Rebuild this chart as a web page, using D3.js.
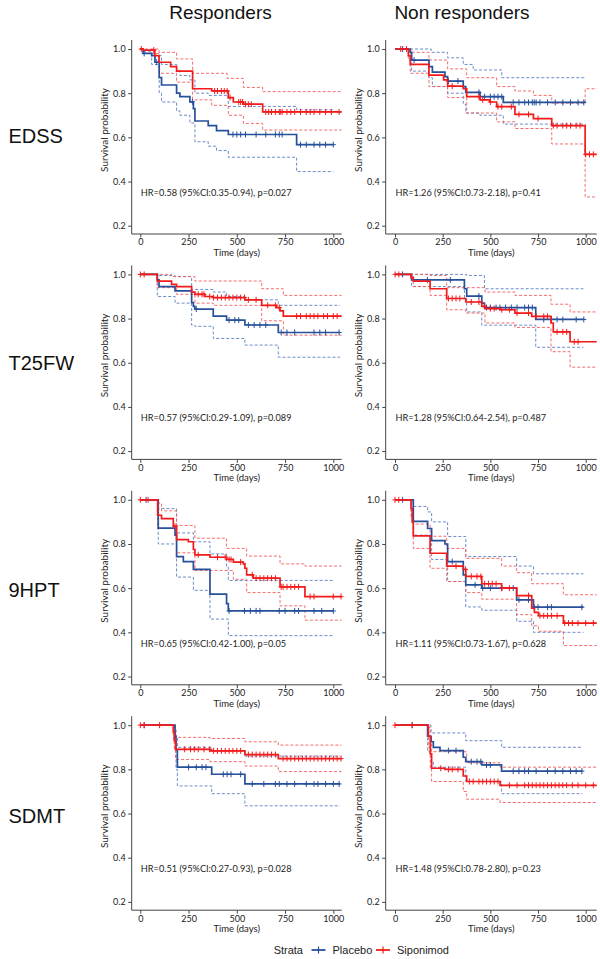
<!DOCTYPE html>
<html>
<head>
<meta charset="utf-8">
<script src="https://cdn.jsdelivr.net/npm/d3@7"></script>
<style>
  body { margin: 0; background: #fff; }
  svg { display: block; }
  .tick text { font-family: Lato, "Open Sans", sans-serif; font-size: 9px; fill: #222; }
</style>
</head>
<body>
<div id="root"><svg width="600" height="959"></svg></div>
<script>
// ---- labels ----
const columnTitles = ['Responders', 'Non responders'];
const rowTitles = ['EDSS', 'T25FW', '9HPT', 'SDMT'];
const dayTicks = [0, 250, 500, 750, 1000];
const probTicks = [0.2, 0.4, 0.6, 0.8, 1.0];
const strata = ['Placebo', 'Siponimod'];
const hrLabels = [
  'HR=0.58 (95%CI:0.35-0.94), p=0.027',
  'HR=1.26 (95%CI:0.73-2.18), p=0.41',
  'HR=0.57 (95%CI:0.29-1.09), p=0.089',
  'HR=1.28 (95%CI:0.64-2.54), p=0.487',
  'HR=0.65 (95%CI:0.42-1.00), p=0.05',
  'HR=1.11 (95%CI:0.73-1.67), p=0.628',
  'HR=0.51 (95%CI:0.27-0.93), p=0.028',
  'HR=1.48 (95%CI:0.78-2.80), p=0.23'
];

// ---- EDSS responders ----
const resEdssPbo = [[0,1],[15,0.98],[59,0.97],[76,0.94],[98,0.87],[110,0.837],[188,0.80],[205,0.784],[257,0.761],[275,0.73],[283,0.674],[352,0.653],[395,0.63],[456,0.613],[810,0.567],[1000,0.567]];
const resEdssPboHi = [[0,1],[15,0.995],[76,0.97],[110,0.93],[188,0.905],[205,0.88],[257,0.86],[283,0.80],[352,0.79],[456,0.74],[810,0.725],[1000,0.725]];
const resEdssPboLo = [[0,1],[15,0.99],[59,0.93],[98,0.80],[110,0.76],[188,0.72],[205,0.70],[257,0.665],[283,0.58],[352,0.56],[395,0.54],[456,0.51],[810,0.445],[1000,0.445]];
const resEdssPboCens = [20, 85, 270, 480, 500, 520, 545, 600, 650, 700, 720, 735, 830, 860, 900, 930, 960, 1000];
const resEdssSip = [[0,1],[15,0.995],[75,0.97],[97,0.94],[157,0.92],[188,0.90],[271,0.82],[370,0.81],[456,0.78],[482,0.76],[534,0.75],[634,0.715],[1043,0.715]];
const resEdssSipHi = [[0,1],[97,0.985],[188,0.955],[271,0.89],[450,0.867],[534,0.826],[634,0.807],[1043,0.807]];
const resEdssSipLo = [[0,1],[15,0.98],[97,0.89],[188,0.85],[271,0.77],[370,0.745],[456,0.70],[534,0.663],[634,0.633],[1043,0.633]];
const resEdssSipCens = [5, 70, 385, 400, 420, 435, 450, 465, 510, 520, 530, 545, 560, 575, 650, 665, 680, 700, 720, 725, 735, 760, 780, 800, 830, 860, 880, 900, 930, 960, 990, 1030];

// ---- EDSS non responders ----
const nonEdssPbo = [[0,1],[79,0.985],[87,0.95],[178,0.92],[196,0.895],[262,0.875],[276,0.855],[358,0.83],[371,0.804],[446,0.784],[568,0.758],[1000,0.758]];
const nonEdssPboHi = [[0,1],[190,0.985],[276,0.96],[358,0.93],[410,0.905],[560,0.87],[1000,0.87]];
const nonEdssPboLo = [[0,1],[79,0.98],[87,0.90],[178,0.87],[196,0.83],[276,0.80],[358,0.75],[371,0.71],[446,0.70],[568,0.66],[1000,0.66]];
const nonEdssPboCens = [40, 100, 280, 330, 440, 470, 500, 520, 540, 560, 620, 650, 680, 700, 720, 730, 740, 760, 800, 840, 880, 920, 960, 990];
const nonEdssSip = [[0,1],[70,0.97],[80,0.93],[178,0.882],[255,0.86],[276,0.832],[358,0.82],[376,0.784],[446,0.77],[498,0.76],[533,0.739],[629,0.704],[726,0.685],[822,0.653],[997,0.523],[1058,0.523]];
const nonEdssSipHi = [[0,1],[87,0.985],[178,0.95],[276,0.91],[376,0.87],[533,0.83],[629,0.81],[726,0.79],[822,0.755],[997,0.82],[1058,0.82]];
const nonEdssSipLo = [[0,1],[70,0.95],[80,0.89],[178,0.83],[276,0.78],[376,0.71],[533,0.67],[629,0.64],[822,0.57],[997,0.33],[1058,0.33]];
const nonEdssSipCens = [30, 60, 300, 440, 460, 500, 540, 560, 610, 650, 700, 750, 830, 850, 880, 900, 920, 950, 970, 1000, 1020, 1040];

// ---- T25FW responders ----
const resT25Pbo = [[0,1],[88,0.975],[97,0.945],[180,0.925],[266,0.872],[275,0.855],[283,0.843],[378,0.811],[447,0.793],[542,0.771],[715,0.737],[1035,0.737]];
const resT25PboHi = [[0,1],[97,0.995],[180,0.99],[266,0.932],[378,0.92],[447,0.90],[542,0.885],[715,0.86],[1035,0.86]];
const resT25PboLo = [[0,1],[88,0.90],[180,0.87],[266,0.77],[283,0.765],[378,0.71],[542,0.68],[715,0.625],[1035,0.625]];
const resT25PboCens = [290, 460, 490, 510, 560, 590, 620, 650, 730, 760, 800, 900, 930, 960, 1030];
const resT25Sip = [[0,1],[88,0.97],[162,0.955],[188,0.945],[266,0.92],[283,0.91],[335,0.90],[378,0.895],[542,0.885],[629,0.86],[706,0.85],[724,0.835],[741,0.811],[1043,0.811]];
const resT25SipHi = [[0,1],[162,0.99],[283,0.97],[629,0.935],[741,0.905],[1043,0.905]];
const resT25SipLo = [[0,1],[88,0.94],[188,0.91],[283,0.87],[378,0.86],[629,0.79],[741,0.725],[1043,0.725]];
const resT25SipCens = [0, 20, 300, 320, 330, 360, 380, 400, 420, 440, 460, 480, 500, 520, 540, 560, 600, 660, 700, 720, 810, 830, 860, 880, 900, 920, 950, 970, 1000, 1020];

// ---- T25FW non responders ----
const nonT25Pbo = [[0,1],[87,0.975],[364,0.935],[376,0.902],[455,0.87],[469,0.85],[738,0.796],[988,0.796]];
const nonT25PboHi = [[0,1],[376,0.995],[469,0.935],[988,0.935]];
const nonT25PboLo = [[0,1],[87,0.945],[364,0.89],[376,0.83],[455,0.77],[738,0.67],[988,0.67]];
const nonT25PboCens = [40, 170, 290, 440, 480, 500, 530, 550, 580, 610, 640, 680, 700, 720, 780, 820, 850, 880, 950, 990];
const nonT25Sip = [[0,1],[84,0.985],[96,0.97],[184,0.935],[271,0.891],[371,0.875],[455,0.855],[472,0.845],[551,0.84],[629,0.825],[717,0.81],[818,0.78],[830,0.74],[918,0.695],[1058,0.695]];
const nonT25SipHi = [[0,1],[184,0.995],[271,0.94],[472,0.92],[629,0.905],[818,0.865],[918,0.83],[1058,0.83]];
const nonT25SipLo = [[0,1],[96,0.945],[184,0.905],[271,0.84],[371,0.825],[472,0.78],[629,0.76],[818,0.65],[918,0.58],[1058,0.58]];
const nonT25SipCens = [0, 20, 280, 300, 320, 340, 400, 440, 470, 500, 520, 560, 600, 640, 700, 740, 780, 800, 850, 880, 900, 940, 960];

// ---- 9HPT responders ----
const res9hPbo = [[0,1],[93,0.872],[180,0.84],[188,0.743],[223,0.72],[275,0.685],[361,0.573],[447,0.53],[456,0.497],[1000,0.497]];
const res9hPboHi = [[0,1],[93,0.96],[188,0.85],[275,0.81],[361,0.755],[447,0.70],[456,0.635],[1000,0.635]];
const res9hPboLo = [[0,1],[93,0.80],[188,0.65],[275,0.59],[361,0.46],[456,0.385],[1000,0.385]];
const res9hPboCens = [30, 460, 540, 570, 600, 620, 720, 750, 800, 820, 900, 940, 1000];
const res9hSip = [[0,1],[90,0.93],[110,0.915],[171,0.88],[188,0.82],[249,0.81],[275,0.775],[283,0.751],[361,0.74],[447,0.73],[482,0.718],[534,0.71],[542,0.69],[551,0.66],[585,0.645],[724,0.606],[853,0.562],[1043,0.562]];
const res9hSipHi = [[0,1],[90,0.985],[110,0.95],[188,0.884],[283,0.826],[447,0.78],[551,0.745],[724,0.71],[853,0.70],[1043,0.70]];
const res9hSipLo = [[0,1],[90,0.87],[188,0.76],[283,0.68],[482,0.64],[551,0.58],[724,0.52],[853,0.455],[1043,0.455]];
const res9hSipCens = [0, 40, 180, 300, 400, 440, 460, 470, 520, 580, 600, 620, 640, 660, 680, 700, 730, 740, 760, 780, 800, 820, 880, 900, 1000, 1040];

// ---- 9HPT non responders ----
const non9hPbo = [[0,1],[96,0.902],[171,0.87],[192,0.815],[262,0.80],[276,0.72],[358,0.66],[371,0.615],[455,0.60],[638,0.547],[726,0.514],[988,0.514]];
const non9hPboHi = [[0,1],[96,0.97],[171,0.945],[192,0.90],[276,0.834],[371,0.743],[638,0.70],[726,0.665],[988,0.665]];
const non9hPboLo = [[0,1],[96,0.84],[192,0.73],[276,0.63],[371,0.515],[455,0.50],[638,0.45],[726,0.40],[988,0.40]];
const non9hPboCens = [40, 300, 420, 460, 500, 560, 620, 650, 700, 730, 750, 800, 820, 980];
const non9hSip = [[0,1],[84,0.96],[90,0.90],[96,0.837],[184,0.758],[271,0.70],[358,0.685],[371,0.653],[455,0.62],[559,0.60],[638,0.566],[717,0.509],[731,0.49],[752,0.475],[883,0.442],[1058,0.442]];
const non9hSipHi = [[0,1],[84,0.99],[96,0.89],[184,0.835],[271,0.78],[371,0.735],[559,0.70],[638,0.67],[717,0.62],[883,0.57],[1058,0.57]];
const non9hSipLo = [[0,1],[84,0.92],[96,0.78],[184,0.69],[271,0.63],[371,0.58],[455,0.55],[638,0.48],[717,0.43],[752,0.405],[883,0.34],[1058,0.34]];
const non9hSipCens = [0, 20, 320, 370, 400, 430, 450, 470, 490, 510, 530, 560, 600, 700, 760, 780, 800, 820, 850, 890, 910, 930, 960, 1000, 1040];

// ---- SDMT responders ----
const resSdmtPbo = [[0,1],[180,0.95],[185,0.89],[192,0.81],[370,0.778],[542,0.734],[1035,0.734]];
const resSdmtPboHi = [[0,1],[180,0.98],[185,0.95],[192,0.90],[370,0.885],[542,0.86],[1035,0.86]];
const resSdmtPboLo = [[0,1],[180,0.90],[185,0.80],[192,0.725],[370,0.69],[542,0.635],[1035,0.635]];
const resSdmtPboCens = [20, 250, 290, 320, 340, 430, 450, 470, 520, 580, 640, 700, 720, 760, 800, 860, 900, 920, 960, 1000, 1030];
const resSdmtSip = [[0,1],[171,0.97],[176,0.93],[183,0.891],[361,0.884],[542,0.867],[715,0.849],[1043,0.849]];
const resSdmtSipHi = [[0,1],[176,0.99],[183,0.945],[361,0.94],[542,0.925],[715,0.91],[1043,0.91]];
const resSdmtSipLo = [[0,1],[171,0.94],[176,0.89],[183,0.845],[361,0.835],[542,0.815],[715,0.79],[1043,0.79]];
const resSdmtSipCens = [0, 20, 100, 230, 260, 280, 300, 330, 360, 380, 400, 420, 440, 460, 480, 500, 520, 560, 580, 600, 620, 640, 660, 680, 700, 740, 760, 780, 800, 820, 840, 860, 880, 900, 920, 940, 960, 980, 1000, 1020, 1040];

// ---- SDMT non responders ----
const nonSdmtPbo = [[0,1],[171,0.95],[189,0.925],[201,0.90],[236,0.885],[358,0.855],[371,0.835],[455,0.82],[559,0.792],[983,0.792]];
const nonSdmtPboHi = [[0,1],[189,0.965],[371,0.93],[559,0.90],[983,0.90]];
const nonSdmtPboLo = [[0,1],[171,0.88],[189,0.835],[201,0.81],[371,0.745],[559,0.69],[983,0.69]];
const nonSdmtPboCens = [90, 280, 320, 400, 430, 450, 480, 500, 620, 650, 680, 700, 740, 800, 840, 880, 920, 950, 980];
const nonSdmtSip = [[0,1],[175,0.95],[185,0.87],[192,0.805],[262,0.80],[358,0.77],[376,0.745],[551,0.728],[1058,0.728]];
const nonSdmtSipHi = [[0,1],[175,0.99],[185,0.94],[192,0.88],[376,0.83],[551,0.81],[1058,0.81]];
const nonSdmtSipLo = [[0,1],[175,0.90],[185,0.80],[192,0.745],[358,0.70],[376,0.665],[551,0.65],[1058,0.65]];
const nonSdmtSipCens = [0, 90, 240, 280, 300, 330, 390, 410, 440, 460, 480, 500, 520, 540, 600, 640, 680, 700, 720, 740, 760, 780, 800, 820, 840, 860, 880, 900, 930, 960, 1000, 1040];

const panels = [
  { row: 0, col: 0, pbo: [resEdssPbo, resEdssPboHi, resEdssPboLo, resEdssPboCens], sip: [resEdssSip, resEdssSipHi, resEdssSipLo, resEdssSipCens] },
  { row: 0, col: 1, pbo: [nonEdssPbo, nonEdssPboHi, nonEdssPboLo, nonEdssPboCens], sip: [nonEdssSip, nonEdssSipHi, nonEdssSipLo, nonEdssSipCens] },
  { row: 1, col: 0, pbo: [resT25Pbo, resT25PboHi, resT25PboLo, resT25PboCens], sip: [resT25Sip, resT25SipHi, resT25SipLo, resT25SipCens] },
  { row: 1, col: 1, pbo: [nonT25Pbo, nonT25PboHi, nonT25PboLo, nonT25PboCens], sip: [nonT25Sip, nonT25SipHi, nonT25SipLo, nonT25SipCens] },
  { row: 2, col: 0, pbo: [res9hPbo, res9hPboHi, res9hPboLo, res9hPboCens], sip: [res9hSip, res9hSipHi, res9hSipLo, res9hSipCens] },
  { row: 2, col: 1, pbo: [non9hPbo, non9hPboHi, non9hPboLo, non9hPboCens], sip: [non9hSip, non9hSipHi, non9hSipLo, non9hSipCens] },
  { row: 3, col: 0, pbo: [resSdmtPbo, resSdmtPboHi, resSdmtPboLo, resSdmtPboCens], sip: [resSdmtSip, resSdmtSipHi, resSdmtSipLo, resSdmtSipCens] },
  { row: 3, col: 1, pbo: [nonSdmtPbo, nonSdmtPboHi, nonSdmtPboLo, nonSdmtPboCens], sip: [nonSdmtSip, nonSdmtSipHi, nonSdmtSipLo, nonSdmtSipCens] }
];

const colors = { pbo: '#27509b', sip: '#f21b1b', pboCi: '#5b80c4', sipCi: '#f55b5b' };
const panelFont = 'Lato, "Open Sans", sans-serif';
const titleFont = '"Liberation Sans", Arial, sans-serif';

// layout
const rowStep = 225.4;
const colGeom = [
  { axisX: 131.7, x0: 140.3, x1: 333.3, right: 341.7 },
  { axisX: 385.7, x0: 395, x1: 585.7, right: 596.7 }
];

const svg = d3.select('#root svg');

function survAt(steps, t) {
  let s = steps[0][1];
  for (const p of steps) { if (p[0] <= t) s = p[1]; }
  return s;
}

function drawPanel(p, i) {
  const cg = colGeom[p.col];
  const top = 40 + p.row * rowStep;
  const bottom = 234 + p.row * rowStep;
  const xScale = d3.scaleLinear().domain([0, 1000]).range([cg.x0, cg.x1]);
  const yScale = d3.scaleLinear().domain([0.2, 1.0]).range([225.7 + p.row * rowStep, 49 + p.row * rowStep]);
  const g = svg.append('g').attr('class', 'panel');

  // axes
  const yAxis = d3.axisLeft(yScale).tickValues(probTicks).tickFormat(d3.format('.1f')).tickSize(3.5).tickPadding(2.5);
  g.append('g').attr('transform', `translate(${cg.axisX} 0)`).call(yAxis)
    .call(a => a.select('.domain').remove())
    .call(a => a.selectAll('.tick line').attr('stroke', '#444'));
  const xAxis = d3.axisBottom(xScale).tickValues(dayTicks).tickFormat(d3.format('.0f')).tickSize(3.5).tickPadding(1.5);
  g.append('g').attr('transform', `translate(0 ${bottom})`).call(xAxis)
    .call(a => a.select('.domain').remove())
    .call(a => a.selectAll('.tick line').attr('stroke', '#444'));
  g.append('line').attr('x1', cg.axisX).attr('x2', cg.axisX).attr('y1', top).attr('y2', bottom)
    .attr('stroke', '#444').attr('stroke-width', 1);
  g.append('line').attr('x1', cg.axisX).attr('x2', cg.right).attr('y1', bottom).attr('y2', bottom)
    .attr('stroke', '#444').attr('stroke-width', 1);

  // titles
  g.append('text')
    .attr('transform', `translate(${cg.axisX - 23.5} ${(top + bottom) / 2 - 7}) rotate(-90)`)
    .attr('text-anchor', 'middle')
    .attr('font-family', panelFont).attr('font-size', '10px').attr('fill', '#222')
    .text('Survival probability');
  g.append('text')
    .attr('x', (cg.axisX + cg.right) / 2).attr('y', bottom + 22)
    .attr('text-anchor', 'middle')
    .attr('font-family', panelFont).attr('font-size', '9.5px').attr('fill', '#222')
    .text('Time (days)');

  const line = d3.line().x(d => xScale(d[0])).y(d => yScale(d[1])).curve(d3.curveStepAfter);

  // confidence bands (dashed)
  [['pbo', 'pboCi'], ['sip', 'sipCi']].forEach(([k, c]) => {
    [p[k][1], p[k][2]].forEach(arr => {
      g.append('path').attr('d', line(arr)).attr('fill', 'none')
        .attr('stroke', colors[c]).attr('stroke-width', 1).attr('stroke-dasharray', '3,2')
        .attr('opacity', 0.9);
    });
  });

  // estimates + censor marks
  ['pbo', 'sip'].forEach(k => {
    const est = p[k][0];
    g.append('path').attr('d', line(est)).attr('fill', 'none')
      .attr('stroke', colors[k]).attr('stroke-width', 1.7);
    g.selectAll(null).data(p[k][3]).enter().append('path')
      .attr('d', t => {
        const cx = xScale(t), cy = yScale(survAt(est, t));
        return `M${cx},${cy - 3}V${cy + 3}M${cx - 2.5},${cy}H${cx + 2.5}`;
      })
      .attr('stroke', colors[k]).attr('stroke-width', 1);
  });

  // HR annotation
  g.append('text')
    .attr('x', xScale(0) + 0.5).attr('y', yScale(0.335))
    .attr('font-family', panelFont).attr('font-size', '9.2px').attr('fill', '#222')
    .text(hrLabels[i]);
}

panels.forEach(drawPanel);

// column titles
const colCenters = [220.5, 462];
svg.selectAll('text.coltitle').data(columnTitles).enter().append('text')
  .attr('class', 'coltitle')
  .attr('x', (d, i) => colCenters[i]).attr('y', 18.5)
  .attr('text-anchor', 'middle')
  .attr('font-family', titleFont).attr('font-size', '19px').attr('fill', '#111')
  .text(d => d);

// row titles
svg.selectAll('text.rowtitle').data(rowTitles).enter().append('text')
  .attr('class', 'rowtitle')
  .attr('x', 8.5).attr('y', (d, i) => 143 + i * 226.8)
  .attr('font-family', titleFont).attr('font-size', '20px').attr('fill', '#111')
  .text(d => d);

// legend
const legend = svg.append('g').attr('transform', 'translate(0 950)');
legend.append('text').attr('x', 303).attr('y', 4).attr('text-anchor', 'end')
  .attr('font-family', titleFont).attr('font-size', '11px').attr('fill', '#222').text('Strata');
const legendX = [311.5, 376];
strata.forEach((s, i) => {
  const c = i === 0 ? colors.pbo : colors.sip;
  const lx = legendX[i];
  legend.append('line').attr('x1', lx).attr('x2', lx + 14).attr('y1', 0).attr('y2', 0)
    .attr('stroke', c).attr('stroke-width', 1.8);
  legend.append('line').attr('x1', lx + 7).attr('x2', lx + 7).attr('y1', -3.5).attr('y2', 3.5)
    .attr('stroke', c).attr('stroke-width', 1.2);
  legend.append('text').attr('x', lx + 21).attr('y', 4)
    .attr('font-family', titleFont).attr('font-size', '11px').attr('fill', '#222').text(s);
});
</script>
</body>
</html>
